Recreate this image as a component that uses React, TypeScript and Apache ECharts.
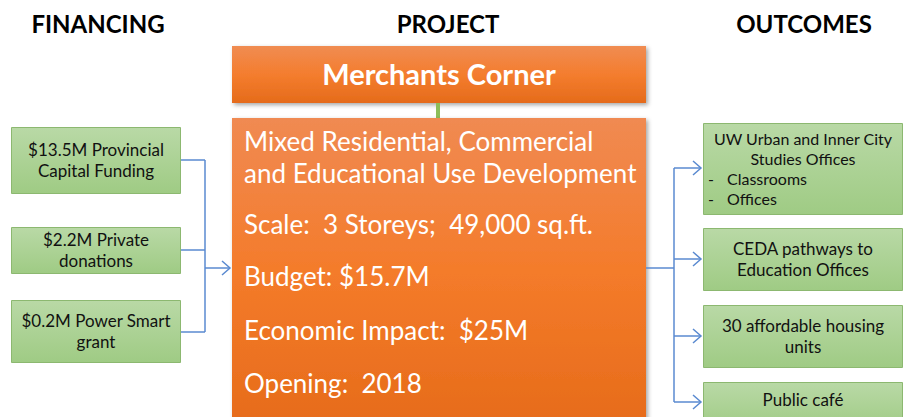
import React, { useEffect, useRef } from "react";
import * as echarts from "echarts";

const headers = ["FINANCING", "PROJECT", "OUTCOMES"];
const projectTitle = "Merchants Corner";
const projectLines = [
  "Mixed Residential, Commercial",
  "and Educational Use Development",
  "Scale:  3 Storeys;  49,000 sq.ft.",
  "Budget: $15.7M",
  "Economic Impact:  $25M",
  "Opening:  2018",
];
const financing = [
  ["$13.5M Provincial", "Capital Funding"],
  ["$2.2M Private", "donations"],
  ["$0.2M Power Smart", "grant"],
];
const outcomeTitle = ["UW Urban and Inner City", "Studies Offices"];
const outcomeBullets = ["Classrooms", "Offices"];
const outcomes = [
  ["CEDA pathways to", "Education Offices"],
  ["30 affordable housing", "units"],
  ["Public café"],
];

const FONT = "Lato, 'Open Sans', sans-serif";
const BLUE = "#5A8AD0";

const greenFill = new echarts.graphic.LinearGradient(0, 0, 0, 1, [
  { offset: 0, color: "#B9D9A6" },
  { offset: 1, color: "#9FCB84" },
]);
const orangeFill = (a: string, b: string, c: string) =>
  new echarts.graphic.LinearGradient(0, 0, 0, 1, [
    { offset: 0, color: a },
    { offset: 0.5, color: b },
    { offset: 1, color: c },
  ]);

export default function App() {
  const ref = useRef<HTMLDivElement>(null);
  useEffect(() => {
    if (!ref.current) return;
    const chart = echarts.init(ref.current, undefined, { renderer: "svg" });
    const els: any[] = [];
    const txt = (text: string, x: number, y: number, size: number, align = "center", fill = "#111", weight = "normal") =>
      els.push({
        type: "text",
        x,
        y,
        style: { text, fill, font: `${weight} ${size}px ${FONT}`, textAlign: align, textVerticalAlign: "middle" },
      });
    const block = (lines: string[], x: number, cy: number, size: number, gap: number) => {
      const start = cy - ((lines.length - 1) * gap) / 2;
      lines.forEach((l, i) => txt(l, x, start + i * gap, size));
    };

    const headerX = [98, 448, 804];
    headers.forEach((h, i) => txt(h, headerX[i], 23, 24, "center", "#000", "bold"));

    const shadow = { shadowBlur: 4, shadowColor: "rgba(0,0,0,0.35)", shadowOffsetX: 2, shadowOffsetY: 2 };
    els.push({
      type: "rect",
      shape: { x: 232, y: 46, width: 414, height: 57 },
      style: { fill: orangeFill("#F08C52", "#F47D2E", "#E56B1B"), ...shadow },
    });
    txt(projectTitle, 439, 73, 29, "center", "#fff", "bold");
    els.push({ type: "line", shape: { x1: 438, y1: 103, x2: 438, y2: 118 }, style: { stroke: "#8DBE5A", lineWidth: 4 } });
    els.push({
      type: "rect",
      shape: { x: 232, y: 118, width: 414, height: 310 },
      style: { fill: orangeFill("#F08A52", "#F47B2A", "#E66B1A"), ...shadow },
    });
    const lineY = [140.5, 172.5, 224, 276, 330, 383];
    projectLines.forEach((t, i) => txt(t, 244, lineY[i], 26, "left", "#fff"));

    const finBoxes = [
      [127, 193],
      [227, 273],
      [300, 362],
    ];
    const finLink = [160, 250, 332];
    financing.forEach((t, i) => {
      const [y0, y1] = finBoxes[i];
      els.push({
        type: "rect",
        shape: { x: 11.5, y: y0 + 0.5, width: 169, height: y1 - y0 },
        style: { fill: greenFill, stroke: "#8CB870", lineWidth: 1 },
      });
      block(t, 96, (y0 + y1) / 2, 17, 21);
      els.push({ type: "line", shape: { x1: 181, y1: finLink[i], x2: 205, y2: finLink[i] }, style: { stroke: BLUE, lineWidth: 1.5 } });
    });
    els.push({ type: "line", shape: { x1: 205, y1: 160, x2: 205, y2: 332 }, style: { stroke: BLUE, lineWidth: 1.5 } });
    els.push({ type: "line", shape: { x1: 205, y1: 268, x2: 230, y2: 268 }, style: { stroke: BLUE, lineWidth: 1.5 } });
    els.push({ type: "polyline", shape: { points: [[222, 261], [230, 268], [222, 275]] }, style: { stroke: BLUE, lineWidth: 1.5, fill: "none" } });

    const outBoxes = [
      [123, 214],
      [228, 290],
      [305, 367],
      [382, 430],
    ];
    const arrowY = [168, 259, 336, 402];
    outBoxes.forEach(([y0, y1], i) => {
      els.push({
        type: "rect",
        shape: { x: 703.5, y: y0 + 0.5, width: 199, height: y1 - y0 },
        style: { fill: greenFill, stroke: "#8CB870", lineWidth: 1 },
      });
      els.push({ type: "line", shape: { x1: 674, y1: arrowY[i], x2: 701, y2: arrowY[i] }, style: { stroke: BLUE, lineWidth: 1.5 } });
      els.push({
        type: "polyline",
        shape: { points: [[693, arrowY[i] - 7], [701, arrowY[i]], [693, arrowY[i] + 7]] },
        style: { stroke: BLUE, lineWidth: 1.5, fill: "none" },
      });
    });
    els.push({ type: "line", shape: { x1: 646, y1: 268, x2: 674, y2: 268 }, style: { stroke: BLUE, lineWidth: 1.5 } });
    els.push({ type: "line", shape: { x1: 674, y1: 168, x2: 674, y2: 402 }, style: { stroke: BLUE, lineWidth: 1.5 } });

    const uwY = [138, 158, 178, 198];
    outcomeTitle.forEach((t, i) => txt(t, 803, uwY[i], 16));
    outcomeBullets.forEach((t, i) => {
      txt("-", 708, uwY[i + 2], 16, "left");
      txt(t, 727, uwY[i + 2], 16, "left");
    });
    const outTextY = [259, 336, 399];
    outcomes.forEach((t, i) => block(t, 803, outTextY[i], 17, 21));

    chart.setOption({ animation: false, graphic: { elements: els } });
    return () => chart.dispose();
  }, []);
  return <div ref={ref} style={{ position: "fixed", left: 0, top: 0, width: 906, height: 417, background: "#fff" }} />;
}
